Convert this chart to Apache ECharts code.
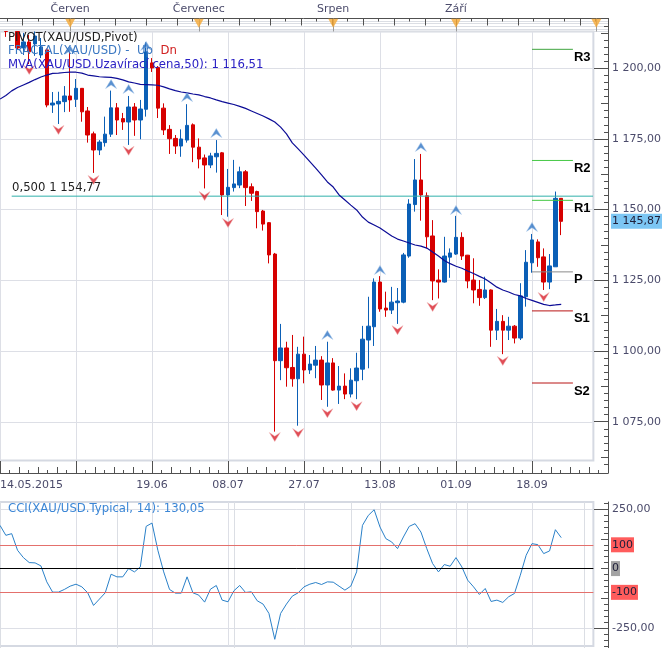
<!DOCTYPE html>
<html>
<head>
<meta charset="utf-8">
<style>
  html, body { margin: 0; padding: 0; background: #fff; }
  #chart { width: 666px; height: 648px; }
</style>
</head>
<body>
<div id="chart"></div>
<script src="https://cdn.jsdelivr.net/npm/echarts@6/dist/echarts.min.js"></script>
<script>
// candles, one per trading day, index 0 = 14.05.2015
const opens = [1230,1213,1226,1213,1207.2,1209.3,1208.6,1204.7,1206.5,1187,1187.4,1188.2,1190.2,1189,1192.9,1184.9,1176.8,1171.1,1173.7,1176.7,1186,1182.2,1181,1186.3,1181.7,1185.5,1201.9,1200.3,1185.9,1178.4,1175.2,1172.5,1174.6,1180,1172.1,1168.3,1165.8,1168.7,1170.1,1155.2,1157.8,1158.7,1163.4,1158.1,1156.4,1149.5,1145.4,1134.3,1096.6,1101.1,1094.2,1090.2,1098.9,1093.3,1095,1096.8,1088,1095.8,1086.2,1087.6,1084.8,1089.5,1093.6,1103.9,1108.6,1124.4,1115.2,1114.5,1117.1,1117.3,1133.6,1151.8,1160.5,1154.9,1140.7,1125.1,1124.4,1133.2,1134.3,1140.2,1133.9,1125.1,1121.8,1118.9,1121.6,1107.4,1110.5,1107.4,1108.8,1104.6,1119.2,1131.2,1138.6,1133.3,1124.4,1129.8,1154];
const closes = [1222,1213,1221,1207.2,1209.3,1205.8,1211.4,1207.5,1187,1187.7,1188.3,1190.2,1188.8,1192.9,1184.6,1176.4,1171.1,1173.9,1176.7,1186,1181.7,1181,1186.3,1181.7,1185.6,1205.8,1200.1,1185.9,1178.2,1175.1,1172.5,1175,1179.8,1172.1,1167.9,1165.8,1169,1169.9,1155.2,1157.9,1159.1,1163.4,1157.8,1155.8,1149.3,1144.9,1134,1096.6,1101.1,1094.1,1090.2,1098.9,1093.3,1095.4,1096.8,1088,1095.8,1086.2,1087.6,1084.8,1089.7,1094,1104.2,1108.8,1124.4,1114.9,1114.5,1117.3,1117.7,1134,1152,1160.5,1155.2,1140.4,1124.8,1124.4,1133.6,1134.7,1140.2,1133.6,1124.8,1121.6,1118.9,1121.6,1107.4,1110.5,1107.4,1108.8,1104.6,1119.5,1131.4,1139.3,1133,1124.4,1130.1,1154,1145.87];
const lows = [1219,1211.1,1216,1206.5,1204.7,1201.5,1204.4,1203.6,1186.2,1184.2,1180.3,1184.5,1184.6,1186.3,1181.1,1173.7,1163,1169.3,1172.3,1175.7,1176.4,1178.2,1172.9,1176.1,1174.9,1182.9,1198.7,1182.4,1176.4,1169.7,1169.7,1168.7,1173.7,1166.8,1164.6,1157.5,1164.7,1163.1,1148.1,1147.5,1156.4,1157.6,1151.3,1153.1,1143.4,1142.6,1131,1071.5,1089.7,1087.4,1087.4,1073.6,1088.6,1091.9,1090.4,1082.7,1080.3,1086,1081.3,1083,1083.6,1083,1089.7,1093.9,1101.8,1113.9,1112.1,1113.1,1109.6,1116.9,1133,1149.3,1146.1,1136.3,1118,1118.6,1124.2,1125.9,1134,1132.2,1122.2,1116.9,1116,1118.4,1101.5,1103.9,1098.9,1103.9,1102.7,1103.9,1115.7,1127.7,1129.8,1121.6,1121.9,1129.8,1141];
const highs = [1232,1213,1228,1213,1212.5,1211.8,1213,1210.7,1207,1191.6,1191.7,1193.7,1205.9,1196.2,1193,1186.3,1177.6,1174.6,1182.9,1192.1,1187.7,1184.2,1190.2,1187.7,1188.8,1209.3,1203.6,1200.8,1187.6,1179.9,1176.4,1178.4,1187.3,1180.5,1175.2,1169.5,1170.1,1174.6,1170.4,1164.4,1167.6,1165.2,1164,1159.3,1156.7,1149.9,1145.6,1134.7,1109.6,1103.3,1105.7,1101.5,1105.1,1098.6,1101.8,1098.2,1103.3,1097.5,1094.7,1092.1,1093.9,1099.4,1108.9,1119.2,1125.7,1126.5,1121,1122.7,1122.3,1134.7,1153.7,1167.9,1169.7,1156.1,1146.3,1128.9,1140.4,1136.3,1147.8,1142,1134,1132.8,1125.1,1126.3,1121.8,1114.9,1112.7,1112.1,1109.2,1124,1135.7,1141.4,1139.5,1136.3,1134.3,1156.4,1154];

// moving average 50
const mva = [1189.1,1190.4,1192,1193.2,1194.1,1195,1196,1196.9,1197.6,1198.2,1198.3,1198.5,1198.6,1198.6,1198.3,1197.6,1197.3,1197,1196.9,1196.8,1196.4,1195.9,1195.2,1194.8,1194.3,1194.2,1194.1,1194,1193.4,1192.7,1192.1,1191.6,1191.3,1190.9,1190.6,1190,1189.5,1188.8,1188.2,1187.7,1187.2,1186.5,1185.8,1184.9,1184,1183.1,1182.1,1181,1179.2,1176.8,1173.6,1171.5,1169.3,1167,1164.7,1162.3,1159.8,1158,1155.2,1153.4,1151.6,1149.9,1147.4,1145.6,1144.6,1143.5,1142.1,1140.7,1139.6,1138.9,1138.2,1137.5,1137.1,1136.4,1135,1133.6,1132,1130.9,1130,1129.3,1128.3,1127.4,1126.4,1125.5,1124.1,1122.6,1121.6,1120.9,1120,1119.5,1118.6,1117.9,1117.2,1116.5,1116.1,1116.3,1116.51];

// CCI 14
const cci = [181.7,139.8,146.8,76.9,46.1,25.2,23.8,11.2,-55.9,-99.2,-99.2,-88,-74.1,-65.7,-76.9,-102,-155.1,-128.6,-102,-23.8,-34.9,-34.9,0,-14,7,177.5,191.5,76.9,-14,-88,-103.4,-103.4,-34.9,-102,-111.8,-141.2,-86.7,-71.3,-132.8,-139.8,-93.6,-71.3,-100.6,-97.8,-135.6,-149.5,-188.7,-297.7,-188.7,-149.5,-116,-102,-76.9,-65.7,-58.7,-67.1,-55.9,-57.3,-74.1,-90.8,-74.1,-14,181.7,223.6,247.4,174.7,125.8,111.8,83.9,132.8,177.5,188.7,153.7,83.9,21,-14,16.8,9.8,46.1,7,-48.9,-76.9,-109,-83.9,-138.4,-132.8,-142.6,-118.8,-104.8,-28,55.9,104.8,100.6,62.9,74.1,163.5,130.05];

// fractals [candle index, level]
const fractalUp = [[12,1206.5],[19,1194.4],[22,1192.7],[25,1207.9],[32,1189.8],[37,1177.1],[56,1105.7],[65,1128.7],[72,1172.2],[78,1149.9],[91,1143.9]];
const fractalDn = [[5,1199.4],[10,1178.2],[16,1160.5],[22,1170.8],[35,1154.8],[39,1145.3],[47,1069.6],[51,1071],[56,1078],[61,1080.5],[68,1107.4],[74,1115.6],[86,1096.5],[93,1119.1]];

// pivot levels
const pivotNames = ['R3','R2','R1','P','S1','S2'];
const pivotValues = [1206.7,1167.4,1153.3,1128,1114.2,1088.7];
const pivotColors = ['#3fa53f','#45c845','#45c845','#8a8a8a','#b81414','#b81414'];
const pivotFrom = 91, pivotTo = 98;
const fiboLevel = 1154.77;

const lastPrice = 1145.87;
const priceTicks = [1075,1100,1125,1150,1175,1200];
const cciMajorTicks = [-250,250];
const dateTicks = [0,26,39,52,65,78,91];
const dateLabels = ['14.05.2015','19.06','08.07','27.07','13.08','01.09','18.09'];
const monthTicks = [12,34,57,78];
const monthLabels = ['Červen','Červenec','Srpen','Září'];
const monthMarks = [12,34,57,78,102];

const FONT = 'DejaVu Sans';
const TXT = '#4b4b6b';
const GRIDLINE = '#dddfe6';
const PANEL = '#d5d9e2';
const TICK = '#505050';
const BLUE = '#0b5fb6';
const RED = '#d60000';

const steps = (from, to, step) => {
  const out = [];
  for (let v = from; v <= to + 1e-6; v += step) out.push(v);
  return out;
};
const money = (v) => {
  const s = v.toFixed(2).replace('.', ',').replace('-', '');
  const parts = s.split(',');
  return (v < 0 ? '-' : '') + parts[0].replace(/\B(?=(\d{3})+$)/g, ' ') + ',' + parts[1];
};

const chart = echarts.init(document.getElementById('chart'), null, { renderer: 'canvas' });

const categories = steps(0, 101, 1).map(String);
const noAxis = { onZero: false, show: false };
const hide = { axisLine: noAxis, axisTick: { show: false }, axisLabel: { show: false } };
const gridTicks = steps(0, 91, 13);

// outerBoundsMode none: labels must not push the grids around
const panelGrid = { show: true, borderColor: PANEL, borderWidth: 2, backgroundColor: '#fff', left: -2.92, width: 596.3, outerBoundsMode: 'none' };
const grid = [
  { ...panelGrid, top: 31.5, height: 429 },    // 0 price panel
  { ...panelGrid, top: 502, height: 144 },     // 1 cci panel
  { left: 0, width: 608, top: 18.5, height: 454.5, outerBoundsMode: 'none' }, // 2 price ruler
  { left: 0, width: 608, top: 502, height: 146, outerBoundsMode: 'none' },    // 3 cci ruler
  { left: -8.7, width: 616.7, top: 18.5, height: 13, outerBoundsMode: 'none' } // 4 top ruler
];

// x axes
const xCat = (gridIndex) => ({ type: 'category', gridIndex, data: categories, boundaryGap: true, ...hide });
const xLines = (gridIndex) => ({
  type: 'value', gridIndex, min: -0.5, max: 101.5, ...hide,
  axisTick: { show: false, customValues: gridTicks },
  axisLabel: { show: false, customValues: gridTicks },
  splitLine: { show: true, lineStyle: { color: GRIDLINE, width: 1 } }
});
const xAxis = [
  xCat(0),   // 0
  xCat(1),   // 1
  xLines(0), // 2
  xLines(1), // 3
  { // 4 dates and long ticks
    type: 'value', gridIndex: 2, min: 0, max: 104, position: 'bottom', splitLine: { show: false },
    axisLine: { onZero: false, lineStyle: { color: TICK, width: 1 } },
    axisTick: { inside: true, length: 12, lineStyle: { color: TICK }, customValues: steps(0, 104, 13) },
    axisLabel: {
      customValues: dateTicks, margin: 7, color: TXT, fontFamily: FONT, fontSize: 11, alignMinLabel: 'left',
      formatter: (v) => dateLabels[dateTicks.indexOf(v)]
    }
  },
  { // 5 small bottom ticks
    type: 'value', gridIndex: 2, min: 0, max: 104, interval: 3.25, position: 'bottom', splitLine: { show: false },
    axisLine: { onZero: false, show: false }, axisLabel: { show: false },
    axisTick: { inside: true, length: 6, lineStyle: { color: TICK } },
    minorTick: { show: true, splitNumber: 2, length: 3, lineStyle: { color: TICK } }
  },
  { // 6 month names
    type: 'value', gridIndex: 2, min: 0, max: 104, position: 'top', splitLine: { show: false },
    axisLine: { onZero: false, show: false },
    axisTick: { inside: true, length: 13, lineStyle: { color: '#9a9a9a' }, customValues: monthMarks },
    axisLabel: {
      customValues: monthTicks, margin: 4, color: TXT, fontFamily: FONT, fontSize: 11,
      formatter: (v) => monthLabels[monthTicks.indexOf(v)]
    }
  },
  { // 7 top ruler
    type: 'value', gridIndex: 4, min: 0, max: 105.49, interval: 5.3, position: 'top', splitLine: { show: false },
    axisLine: { onZero: false, lineStyle: { color: TICK, width: 1 } }, axisLabel: { show: false },
    axisTick: { inside: true, length: 7, lineStyle: { color: TICK } },
    minorTick: { show: true, splitNumber: 2, length: 3, lineStyle: { color: TICK } }
  },
  { type: 'value', gridIndex: 3, min: 0, max: 104, ...hide } // 8
];

// y axes
const priceMin = 1061.3, priceMax = 1213, rulerMin = 1056.85, rulerMax = 1217.6;
const cciMin = -325.8, cciMax = 280, cciRulerMin = -334, cciRulerMax = 280;
const ruler = (gridIndex, min, max, ticks, length, label) => ({
  type: 'value', gridIndex, min, max, position: 'right', splitLine: { show: false },
  axisLine: { onZero: false, show: length === 14, lineStyle: { color: TICK, width: 1 } },
  axisTick: { inside: true, length, customValues: ticks, lineStyle: { color: TICK } },
  axisLabel: label ? { customValues: ticks, margin: 4, color: TXT, fontFamily: FONT, fontSize: 11, formatter: money } : { show: false }
});
const tag = (gridIndex, min, max, values, background, formatter) => ({
  type: 'value', gridIndex, min, max, position: 'right', splitLine: { show: false }, z: 5,
  axisLine: { onZero: false, show: false }, axisTick: { show: false },
  axisLabel: {
    customValues: values, margin: 3, color: '#20203a', fontFamily: FONT, fontSize: 11,
    backgroundColor: background, padding: [2, 1, 2, 1], formatter
  }
});
const yAxis = [
  { // 0 price panel
    type: 'value', gridIndex: 0, min: priceMin, max: priceMax, ...hide,
    axisTick: { show: false, customValues: priceTicks }, axisLabel: { show: false, customValues: priceTicks },
    splitLine: { show: true, lineStyle: { color: GRIDLINE } }
  },
  { // 1 cci panel
    type: 'value', gridIndex: 1, min: cciMin, max: cciMax, ...hide,
    axisTick: { show: false, customValues: cciMajorTicks }, axisLabel: { show: false, customValues: cciMajorTicks },
    splitLine: { show: true, lineStyle: { color: GRIDLINE } }
  },
  ruler(2, rulerMin, rulerMax, priceTicks, 14, true), // 2
  ruler(2, rulerMin, rulerMax, steps(1062.5, 1212.5, 25), 7, false),
  ruler(2, rulerMin, rulerMax, steps(1060, 1215, 2.5), 4, false),
  tag(2, rulerMin, rulerMax, [lastPrice], '#7cc6f4', (v) => money(v)),
  ruler(3, cciRulerMin, cciRulerMax, cciMajorTicks, 14, true), // 6
  ruler(3, cciRulerMin, cciRulerMax, [-125, 0, 125], 7, false),
  ruler(3, cciRulerMin, cciRulerMax, steps(-325, 275, 25), 4, false),
  tag(3, cciRulerMin, cciRulerMax, [100, -100], '#ff5c5c', (v) => String(v)),
  tag(3, cciRulerMin, cciRulerMax, [0], '#a3a3a3', (v) => String(v)),
  { type: 'value', gridIndex: 4, min: 0, max: 1, ...hide } // 11
];

const upMark = 'path://M0,10 L5,0 L10,10 L5,6 Z';
const dnMark = 'path://M0,0 L5,10 L10,0 L5,4 Z';

const series = [
  {
    type: 'candlestick', xAxisIndex: 0, yAxisIndex: 0, barWidth: 4,
    itemStyle: { color: BLUE, borderColor: BLUE, color0: RED, borderColor0: RED, borderWidth: 1 },
    data: opens.map((o, i) => [o, closes[i], lows[i], highs[i]])
  },
  {
    type: 'line', xAxisIndex: 0, yAxisIndex: 0, showSymbol: false, symbol: 'none', z: 4,
    lineStyle: { color: '#0c0c96', width: 1.2 }, data: mva
  },
  {
    type: 'scatter', xAxisIndex: 0, yAxisIndex: 0, symbol: upMark, symbolSize: [11, 9], z: 5,
    itemStyle: { color: '#2f74c4', borderColor: '#a9c9ea', borderWidth: 0.6 }, data: fractalUp
  },
  {
    type: 'scatter', xAxisIndex: 0, yAxisIndex: 0, symbol: dnMark, symbolSize: [11, 9], z: 5,
    itemStyle: { color: '#d8202c', borderColor: '#f0b4b4', borderWidth: 0.6 }, data: fractalDn
  },
  {
    type: 'line', xAxisIndex: 2, yAxisIndex: 0, symbol: 'none', z: 3,
    lineStyle: { color: '#2fb0ab', width: 1 }, data: [[2, fiboLevel], [101.44, fiboLevel]]
  },
  ...pivotNames.map((name, i) => ({
    type: 'line', xAxisIndex: 0, yAxisIndex: 0, symbol: 'none', z: 3,
    lineStyle: { color: pivotColors[i], width: 1 },
    data: [[pivotFrom, pivotValues[i]], [pivotTo, pivotValues[i]]],
    endLabel: {
      show: true, formatter: name, distance: 1, offset: [0, 8], color: '#000',
      fontFamily: 'Liberation Sans', fontWeight: 'bold', fontSize: 13
    }
  })),
  {
    type: 'line', xAxisIndex: 1, yAxisIndex: 1, symbol: 'none', z: 4,
    lineStyle: { color: '#2a80c8', width: 1 }, data: cci,
    markLine: {
      silent: true, symbol: 'none', label: { show: false }, animation: false,
      data: [
        { yAxis: 100, lineStyle: { color: '#e4706c', width: 1, type: 'solid' } },
        { yAxis: 0, lineStyle: { color: '#000', width: 1, type: 'solid' } },
        { yAxis: -100, lineStyle: { color: '#e4706c', width: 1, type: 'solid' } }
      ]
    }
  },
  { // month flags on the top ruler
    type: 'scatter', xAxisIndex: 6, yAxisIndex: 2, symbol: 'triangle', symbolRotate: 180, symbolSize: [10, 9], z: 6,
    itemStyle: { color: '#f5a833' }, data: monthMarks.map((m) => [m, 1215.9])
  }
];

const note = (text, left, top, color) => ({
  text, left, top, padding: 0, z: 8,
  textStyle: { color, fontFamily: FONT, fontSize: 11.7, fontWeight: 'normal' }
});
const title = [
  note('PIVOT(XAU/USD,Pivot)', 8, 32, '#1e1e1e'),
  {
    text: '{a|FRACTAL(XAU/USD) -  Up  }{b|Dn}', left: 8, top: 45, padding: 0, z: 8,
    textStyle: { fontWeight: 'normal', rich: {
      a: { color: '#3b78c2', fontFamily: FONT, fontSize: 11.7, fontWeight: 'normal' },
      b: { color: '#d02020', fontFamily: FONT, fontSize: 11.7, fontWeight: 'normal' }
    } }
  },
  note('MVA(XAU/USD.Uzavírací cena,50): 1 116,51', 8, 59, '#2a20c4'),
  note('0,500 1 154,77', 12, 182, '#222'),
  note('CCI(XAU/USD.Typical, 14): 130,05', 8, 503, '#3b86d6')
];

chart.setOption({ animation: false, backgroundColor: '#fff', title, grid, xAxis, yAxis, series });
</script>
</body>
</html>
